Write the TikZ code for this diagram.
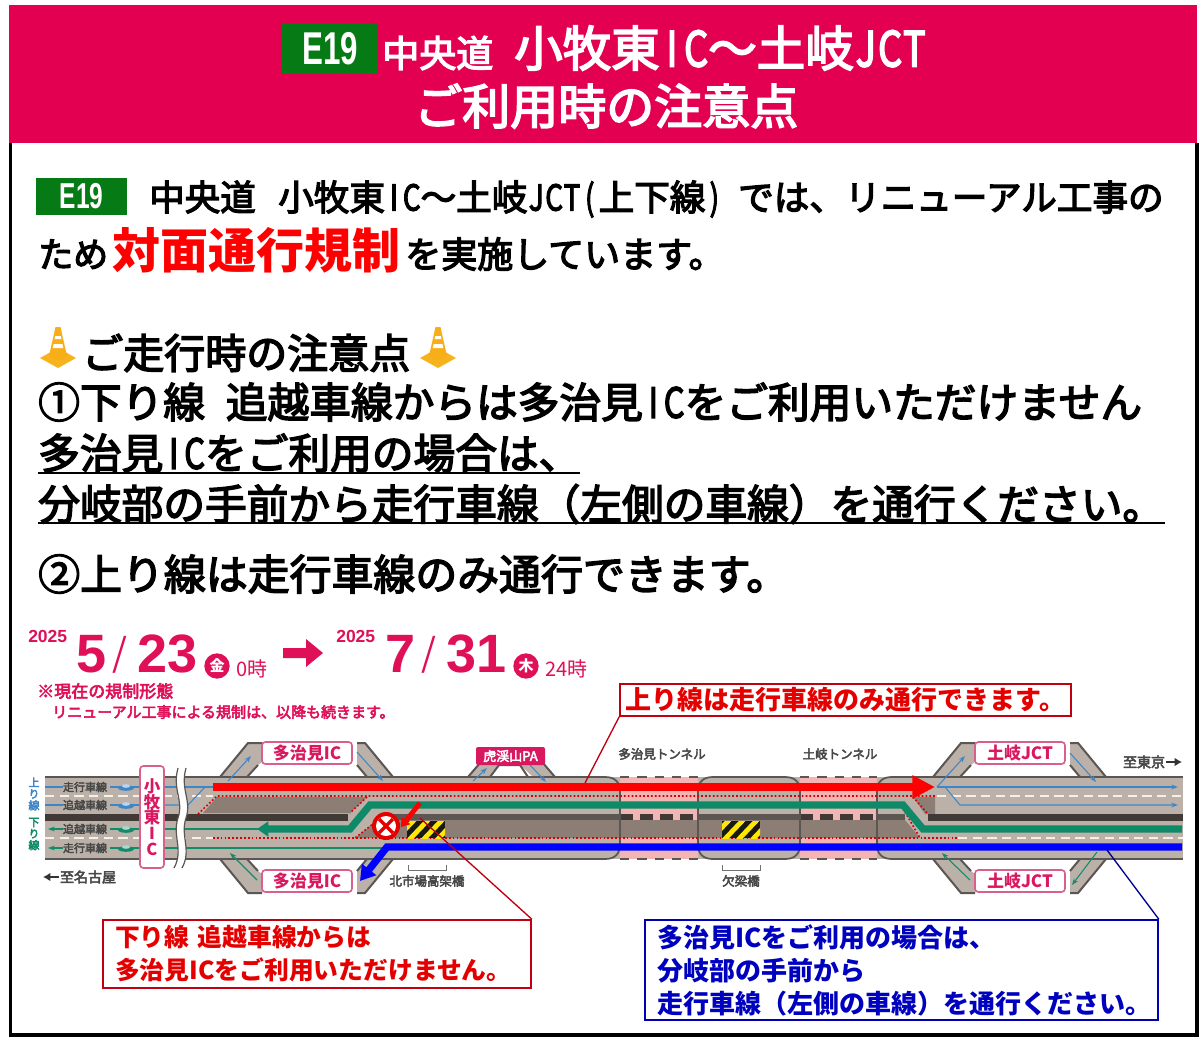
\documentclass[tikz,border=0pt]{standalone}
\usepackage{fontspec}
\usepackage{graphicx}
\usetikzlibrary{arrows.meta}
\setmainfont{Liberation Sans}
\newfontfamily\jp[FakeBold=3.5]{Noto Sans CJK JP}
\newfontfamily\jpr{Noto Sans CJK JP}
\newfontfamily\ls{Liberation Sans}
\definecolor{hdpink}{HTML}{E30050}
\definecolor{badge}{HTML}{067A14}
\definecolor{datepink}{HTML}{DF1058}
\definecolor{roadc}{HTML}{BBB1A9}
\definecolor{brownz}{HTML}{8C7E75}
\definecolor{medianc}{HTML}{403936}
\definecolor{edgec}{HTML}{5A5653}
\definecolor{tunpink}{HTML}{F3B4B4}
\definecolor{lblue}{HTML}{3F86C8}
\definecolor{lgreen}{HTML}{118C69}
\definecolor{thickgreen}{HTML}{0F8A68}
\definecolor{labpink}{HTML}{D9185F}
\definecolor{labedge}{HTML}{D8608A}
\definecolor{redleader}{HTML}{C00010}
\definecolor{blueleader}{HTML}{000090}
\definecolor{cone}{HTML}{F6B31C}
\newcommand\fs[1]{\fontsize{\fpeval{#1*0.75}pt}{\fpeval{#1*0.9}pt}\selectfont}
\newcommand\fsl[2]{\fontsize{\fpeval{#1*0.75}pt}{\fpeval{#2*0.75}pt}\selectfont\lineskiplimit=-50pt\relax}
\newcommand\hw[1]{\makebox[.5em][c]{\scalebox{.78}[1]{#1}}}
\newcommand\T[6][]{\node[anchor=base west,inner sep=0,font=\jp,#1] (#2) at (#3,{#4+.38*#5}) {\fs{#5}#6};}
\newcommand\C[6][]{\node[anchor=base,inner sep=0,font=\jpr,#1] (#2) at (#3,{#4+.38*#5}) {\fs{#5}#6};}
\newcommand\conedraw[1]{%
  \begin{scope}[shift={(#1,0)}]
    \fill[cone] (-18,358) -- (0,348) -- (18,358) -- (0,368) -- cycle;
    \fill[cone!90!orange] (-2.5,327) -- (2.5,327) -- (9,356) .. controls (4,361) and (-4,361) .. (-9,356) -- cycle;
    \fill[white] (-2.8,336) -- (2.8,336) -- (3.4,339) -- (-3.4,339) -- cycle;
    \fill[white] (-4.4,344) -- (4.4,344) -- (5.2,348) -- (-5.2,348) -- cycle;
  \end{scope}}
\newcommand\haz[1]{%
  \begin{scope}
    \clip (#1,821) rectangle ++(38,17);
    \fill[black!90] (#1,821) rectangle ++(38,17);
    \foreach \i in {-1,0,1,2}
      \draw[line width=3.6pt,yellow!90!orange] ({#1+\i*14+2},840) -- ++(20,-21);
  \end{scope}}
\newcommand\car[3]{%
  \fill[#3] (#1,#2) ellipse (8 and 2.8);
  \fill[#3!35!white] (#1,{#2-2}) ellipse (4 and 1.8);}
\tikzset{
  x=0.75pt,y=-0.75pt,
  roadedge/.style={edgec,line width=1.5pt},
  thinb/.style={lblue,line width=.8pt},
  thing/.style={lgreen,line width=.8pt},
  thinba/.style={thinb,-{Stealth[length=5pt,width=3.6pt]}},
  thinga/.style={thing,-{Stealth[length=5pt,width=3.6pt]}},
  rlabel/.style={draw=labedge,line width=1.2pt,fill=white,rounded corners=2.5pt,text=labpink,font=\jpr\bfseries,inner sep=0,minimum width=67.5pt,minimum height=16.5pt},
  dotr/.style={red!85!black,line width=1.2pt,dash pattern=on 1.3pt off 1.6pt},
  wdash/.style={white!88!brown,line width=1.2pt,dash pattern=on 7pt off 4pt},
  lanelab/.style={text=black!72,font=\jp},
  badgebox/.style={fill=badge,text=white,inner sep=0,font=\ls\bfseries},
  callout/.style={fill=white,line width=1.2pt,inner sep=0},
}
\begin{document}
\begin{tikzpicture}
\useasboundingbox (0,0) rectangle (1200,1045);
\fill[white] (0,0) rectangle (1200,1045);
% frame and header
\draw[black,line width=2.4pt] (10.5,143) -- (10.5,1035) -- (1197,1035) -- (1197,143);
\fill[hdpink] (9,5) rectangle (1197,143);
\node[badgebox,minimum width=72pt,minimum height=36.75pt] (b1) at (330,48.5) {\scalebox{.68}[1]{\fs{46}E19}};
\T[text=white]{t1}{382}{53}{37}{中央道}
\T[text=white]{t2}{514}{48}{48.5}{小牧東\hw{I}\hw{C}〜土岐\hw{J}\hw{C}\hw{T}}
\T[text=white]{t3}{414}{106}{48}{ご利用時の注意点}
% body text
\node[badgebox,minimum width=68.25pt,minimum height=27.75pt] (b2) at (81.5,196.5) {\scalebox{.68}[1]{\fs{36}E19}};
\T{t4}{149}{197}{35.5}{中央道}
\T{t5}{278}{197}{35.6}{小牧東\hw{I}\hw{C}〜土岐\hw{J}\hw{C}\hw{T}\hw{(}上下線\hw{)}\hspace{.42em}では、リニューアル工事の}
\T{t6}{38}{254}{35}{ため}
\T[text=red,font=\jpr\bfseries]{t7}{112}{250}{48}{対面通行規制}
\T{t8}{405}{254}{36}{を実施しています。}
\conedraw{58}
\T{t9}{82}{353}{41}{ご走行時の注意点}
\conedraw{438}
\T{t10}{38}{402}{41.7}{①下り線\hspace{.5em}追越車線からは多治見\hw{I}\hw{C}をご利用いただけません}
\T{t11}{38}{453}{41.7}{多治見\hw{I}\hw{C}をご利用の場合は、}
\T{t12}{38}{504}{41.7}{分岐部の手前から走行車線（左側の車線）を通行ください。}
\T{t13}{38}{574}{41.9}{②上り線は走行車線のみ通行できます。}
\coordinate (u1a) at (38,473); \coordinate (u1b) at (580,473);
\coordinate (u2a) at (38,523); \coordinate (u2b) at (1165,523);
\draw[black,line width=1.3pt] (u1a) -- (u1b);
\draw[black,line width=1.3pt] (u2a) -- (u2b);
% dates
\begin{scope}[datepink]
\T[text=datepink,font=\ls\bfseries]{d1}{28}{636}{17.5}{2025}
\T[text=datepink,font=\ls\bfseries]{d2}{76}{652}{54}{5}
\T[text=datepink,font=\jpr]{d3}{112}{652}{38}{/}
\T[text=datepink,font=\ls\bfseries]{d4}{137}{652}{54}{23}
\node[circle,fill=datepink,text=white,inner sep=0,minimum size=19pt,font=\jpr\bfseries] (d5) at (217,666) {\fs{15}金};
\T[text=datepink,font=\jpr]{d6}{236}{669}{20}{0時}
\fill (283,648) -- (306,648) -- (306,639) -- (323,653) -- (306,667) -- (306,658) -- (283,658) -- cycle;
\T[text=datepink,font=\ls\bfseries]{d7}{336}{636}{17.5}{2025}
\T[text=datepink,font=\ls\bfseries]{d8}{385}{652}{54}{7}
\T[text=datepink,font=\jpr]{d9}{421}{652}{38}{/}
\T[text=datepink,font=\ls\bfseries]{d10}{446}{652}{54}{31}
\node[circle,fill=datepink,text=white,inner sep=0,minimum size=19pt,font=\jpr\bfseries] (d11) at (526,666) {\fs{15}木};
\T[text=datepink,font=\jpr]{d12}{545}{669}{20}{24時}
\T[text=datepink]{d13}{37}{691}{17}{※現在の規制形態}
\T[text=datepink]{d14}{52}{712}{15}{リニューアル工事による規制は、以降も続きます。}
\end{scope}
% road base
\fill[roadc] (45,777) rectangle (1183,859);
\foreach \dx in {0,713}{
  \foreach \sh/\sc in {0/1,1636/-1}{
    \begin{scope}[shift={(\dx,\sh)},yscale=\sc]
      \fill[roadc] (220,777) -- (248,743) -- (262,743) -- (262,762) -- (258,765) -- (247,777) -- cycle;
      \fill[roadc] (357,743) -- (365,743) -- (393,777) -- (367,777) -- (357,765) -- cycle;
      \draw[roadedge] (220,777) -- (248,743) -- (262,743);
      \draw[roadedge] (247,777) -- (258,765);
      \draw[roadedge] (357,743) -- (365,743) -- (393,777);
      \draw[roadedge] (357,765) -- (367,777);
    \end{scope}}}
% PA ramp
\fill[roadc] (468,777) -- (480,763) -- (543,763) -- (555,777) -- cycle;
\fill[white] (490,777) -- (499,765) -- (520,765) -- (533,777) -- cycle;
\draw[roadedge] (468,777) -- (480,763);
\draw[roadedge] (555,777) -- (543,763);
\draw[roadedge] (490,777) -- (499,765) -- (520,765) -- (528,777);
% work zones
\fill[brownz] (203,813) -- (217,797) -- (367,797) -- (350,813) -- cycle;
\fill[brownz] (355,838) -- (378,820) -- (905,820) -- (920,838) -- cycle;
\fill[brownz] (913,797) -- (935,797) -- (935,814) -- (925,814) -- cycle;
% tunnels
\foreach \xa/\xb in {620/698,800/877}{
  \fill[tunpink] (\xa,777) rectangle (\xb,820);
  \fill[tunpink] (\xa,838) rectangle (\xb,859);
}
% road edges
\foreach \xa/\xb in {45/605,712/785,892/1183}{
  \draw[roadedge] (\xa,777) -- (\xb,777);
  \draw[roadedge] (\xa,859) -- (\xb,859);
}
\foreach \xa/\xb in {620/698,800/877}{
  \draw[roadedge,dash pattern=on 7pt off 6pt] (\xa,777) -- (\xb,777);
  \draw[roadedge,dash pattern=on 7pt off 6pt] (\xa,859) -- (\xb,859);
}
% median
\fill[medianc] (45,814) rectangle (348,820.5);
\fill[medianc!85!white] (378,814) rectangle (620,820);
\fill[medianc!85!white] (698,814) rectangle (800,820);
\fill[medianc!85!white] (877,814) rectangle (905,820);
\fill[medianc] (928,814) rectangle (1183,820.5);
\draw[medianc,line width=4.5pt,dash pattern=on 10pt off 5pt] (620,817) -- (698,817);
\draw[medianc,line width=4.5pt,dash pattern=on 10pt off 5pt] (800,817) -- (877,817);
% tunnel mouths
\foreach \xa/\xb in {620/698,800/877}{
  \draw[edgec,line width=1.3pt] (\xa-15,777) .. controls (\xa-5,777) and (\xa,782) .. (\xa,792) -- (\xa,844) .. controls (\xa,854) and (\xa-5,859) .. (\xa-15,859);
  \draw[edgec,line width=1.3pt] (\xb+15,777) .. controls (\xb+5,777) and (\xb,782) .. (\xb,792) -- (\xb,844) .. controls (\xb,854) and (\xb+5,859) .. (\xb+15,859);
}
% lane dashes
\draw[wdash] (45,796) -- (213,796);
\draw[wdash] (937,796) -- (1183,796);
\draw[wdash] (45,838) -- (213,838);
\draw[wdash] (958,838) -- (1183,838);
% dotted work zone limits
\draw[dotr] (198,814) -- (217,796) -- (935,796);
\draw[dotr] (367,797) -- (350,813);
\draw[dotr] (213,838) -- (958,838);
\draw[dotr] (378,820) -- (355,838);
\draw[dotr] (905,812) -- (920,838);
\draw[dotr] (913,797) -- (928,814);
% thin blue lanes
\draw[thinb] (45,787) -- (63,787);
\draw[thinb] (110,787) -- (140,787);
\draw[thinb] (164,787) -- (213,787);
\draw[thinb] (45,805) -- (63,805);
\draw[thinb] (110,805) -- (140,805);
\draw[thinb] (164,805) -- (188,805) -- (205,787);
\draw[thinba] (228,781) -- (251,756);
\draw[thinba] (357,752) -- (383,781);
\draw[thinba] (473,781) -- (487,768);
\draw[thinba] (530,765) -- (546,782);
\draw[thinba] (937,787) -- (965,756);
\draw[thinba] (937,787) -- (1178,787);
\draw[thinba] (937,787) -- (945,787) -- (960,805) -- (1178,805);
\draw[thinba] (1070,753) -- (1096,782);
% thin green lanes
\draw[thinga] (63,829) -- (48,829);
\draw[thinga] (63,848) -- (48,848);
\draw[thing] (110,829) -- (140,829);
\draw[thing] (110,848) -- (140,848);
\draw[thing] (164,829) -- (350,829);
\draw[thing] (164,848) -- (385,848);
\draw[thinga] (257,880) -- (230,853);
\draw[thinga] (970,880) -- (942,853);
\draw[thinga] (1097,852) -- (1072,885);
% cars
\car{126}{788}{lblue}
\car{126}{806}{lblue}
\car{126}{830}{lgreen}
\car{126}{849}{lgreen}
% wave break
\fill[white] (178,768) .. controls (172,790) and (184,800) .. (178,818) .. controls (172,836) and (184,850) .. (174,868) -- (182,868) .. controls (192,850) and (180,836) .. (186,818) .. controls (192,800) and (180,790) .. (186,768) -- cycle;
\draw[edgec,line width=.9pt] (178,768) .. controls (172,790) and (184,800) .. (178,818) .. controls (172,836) and (184,850) .. (174,868);
\draw[edgec,line width=.9pt] (186,768) .. controls (180,790) and (192,800) .. (186,818) .. controls (180,836) and (192,850) .. (182,868);
% lane labels
\C[lanelab]{l1}{85}{787}{11}{走行車線}
\C[lanelab]{l2}{85}{805}{11}{追越車線}
\C[lanelab]{l3}{85}{829}{11}{追越車線}
\C[lanelab]{l4}{85}{848}{11}{走行車線}
\node[inner sep=0,text=lblue,font=\jp\fsl{11}{11.5},align=center] (l5) at (34,794) {上\\り\\線};
\node[inner sep=0,text=lgreen,font=\jp\fsl{11}{11.5},align=center] (l6) at (34,834) {下\\り\\線};
\node[draw=labedge,line width=1.2pt,fill=white,rounded corners=2.5pt,text=labpink,font=\jpr\bfseries\fsl{16.5}{15.8},align=center,inner sep=0,minimum width=18pt,minimum height=76.5pt] (ic) at (152,817) {小\\牧\\東\\I\\C};
% destination labels
\C[lanelab]{l7}{88}{877}{14}{至名古屋}
\coordinate (na) at (59,877); \coordinate (nb) at (43,877);
\draw[black!80,line width=1.5pt,-{Latex[length=5.5pt,width=6.5pt]}] (na) -- (nb);
\C[lanelab]{l8}{1144}{762}{14}{至東京}
\coordinate (ea) at (1166,762); \coordinate (eb) at (1182,762);
\draw[black!80,line width=1.5pt,-{Latex[length=5.5pt,width=6.5pt]}] (ea) -- (eb);
\C[lanelab]{l9}{662}{754}{12.5}{多治見トンネル}
\C[lanelab]{l10}{840}{754}{12.5}{土岐トンネル}
\C[lanelab]{l11}{427}{881}{12.5}{北市場高架橋}
\C[lanelab]{l12}{741}{881}{12.5}{欠梁橋}
\draw[black!55,line width=.7pt] (408,865) -- (408,870) -- (446,870) -- (446,865);
\draw[black!55,line width=.7pt] (722,865) -- (722,870) -- (760,870) -- (760,865);
% junction labels
\node[rlabel] (j1) at (307,753) {\fs{17}多治見IC};
\node[rlabel] (j2) at (307,881) {\fs{17}多治見IC};
\node[rlabel] (j3) at (1020,753) {\fs{17}土岐JCT};
\node[rlabel] (j4) at (1020,881) {\fs{17}土岐JCT};
\node[fill=labpink,text=white,rounded corners=1.5pt,inner sep=0,minimum width=51.75pt,minimum height=13.5pt,font=\jp] (pa) at (510.5,756) {\fs{13}虎渓山PA};
% hazards
\haz{407}
\haz{722}
% thick arrows
\coordinate (rs) at (213,787); \coordinate (re) at (935,787);
\draw[red,line width=5.4pt,-{Triangle[length=17pt,width=16.5pt]}] (rs) -- (re);
\coordinate (gs) at (1182,829); \coordinate (g1) at (923,829); \coordinate (g2) at (903,805); \coordinate (g3) at (370,805); \coordinate (g4) at (350,829); \coordinate (ge) at (257,829);
\draw[thickgreen,line width=5.4pt,-{Triangle[length=8.5pt,width=11pt]}] (gs) -- (g1) -- (g2) -- (g3) -- (g4) -- (ge);
\coordinate (bs) at (1182,847); \coordinate (b3) at (387,847); \coordinate (be) at (360,881);
\draw[blue,line width=5.4pt,-{Triangle[length=11pt,width=13pt]}] (bs) -- (b3) -- (be);
% no entry
\fill[red!90!black] (386,826) circle (14);
\fill[white] (386,826) circle (10);
\draw[red!90!black,line width=2.6pt] (379,819) -- (393,833);
\draw[red!90!black,line width=2.6pt] (393,819) -- (379,833);
\coordinate (sa) at (420,803); \coordinate (sb) at (401,827);
\draw[red,line width=3.6pt,-{Triangle[length=6pt,width=8pt]}] (sa) -- (sb);
% callouts
\coordinate (la) at (585,783);
\coordinate (lb) at (420,818);
\coordinate (lc) at (1107,850);
\node[callout,draw=redleader,minimum width=338.25pt,minimum height=24pt,text=red!90!black,font=\jpr\bfseries] (cb1) at (845.5,700) {\fs{26}上り線は走行車線のみ通行できます。};
\node[callout,draw=redleader,minimum width=321pt,minimum height=51pt,text width=303pt,align=left,text=red!90!black,font=\jpr\bfseries\fsl{24.8}{33}] (cb2) at (317,954) {下り線 追越車線からは\\多治見ICをご利用いただけません。};
\node[callout,draw=blue!70!black,minimum width=384.75pt,minimum height=75pt,text width=366pt,align=left,text=blue!75!black,font=\jpr\bfseries\fsl{26}{33}] (cb3) at (901.5,970) {多治見ICをご利用の場合は、\\分岐部の手前から\\走行車線（左側の車線）を通行ください。};
\draw[redleader,line width=1pt] (cb1.south west) -- (la);
\draw[redleader,line width=1pt] (cb2.north east) -- (lb);
\draw[blueleader,line width=1pt] (cb3.north east) -- (lc);
\end{tikzpicture}
\end{document}
